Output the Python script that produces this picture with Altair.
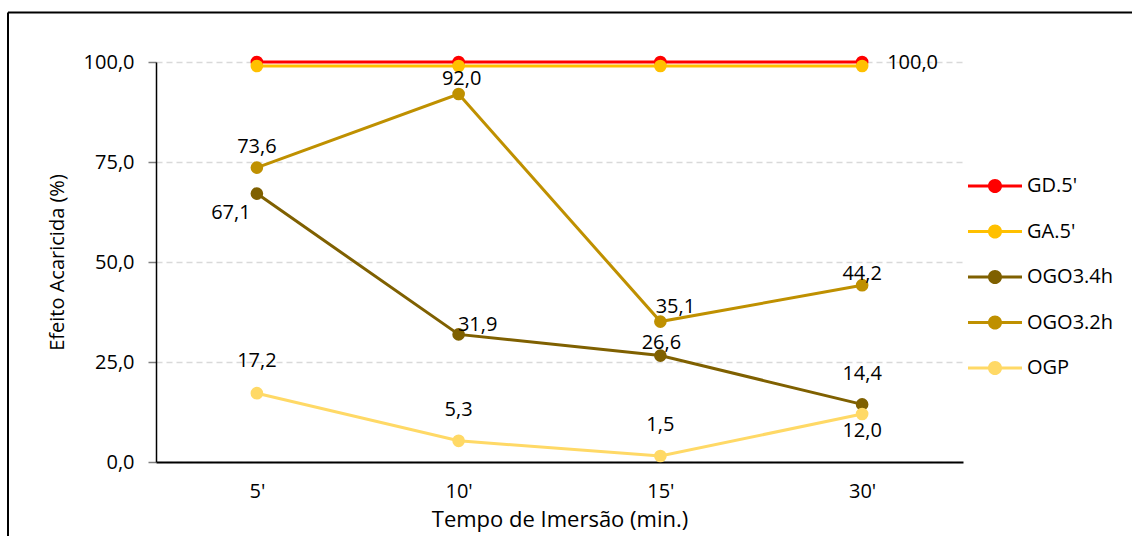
import altair as alt
import pandas as pd

# Immersion times (x categories) and acaricidal effect per treatment (%)
tempos = ["5'", "10'", "15'", "30'"]
series = ["GD.5'", "GA.5'", "OGO3.4h", "OGO3.2h", "OGP"]
gd_5 = [100.0, 100.0, 100.0, 100.0]
ga_5 = [99.0, 99.0, 99.0, 99.0]
ogo3_4h = [67.1, 31.9, 26.6, 14.4]
ogo3_2h = [73.6, 92.0, 35.1, 44.2]
ogp = [17.2, 5.3, 1.5, 12.0]
cores = ["#FF0000", "#FFC000", "#7F6000", "#BF9000", "#FFD966"]

valores = {"GD.5'": gd_5, "GA.5'": ga_5, "OGO3.4h": ogo3_4h,
           "OGO3.2h": ogo3_2h, "OGP": ogp}

rows = []
for s in series:
    for t, v in zip(tempos, valores[s]):
        rows.append({"serie": s, "tempo": t, "valor": v,
                     "rotulo": f"{v:.1f}".replace(".", ",")})
df = pd.DataFrame(rows)

FONT = "Open Sans"
FS = 20

# data-label placement (dx, dy, align) for the labelled points
label_pos = {
    ("GD.5'", "30'"): (25, 1, "left"),
    ("OGO3.2h", "5'"): (0, -21, "center"),
    ("OGO3.2h", "10'"): (3, -15, "center"),
    ("OGO3.2h", "15'"): (15, -15, "center"),
    ("OGO3.2h", "30'"): (0, -11, "center"),
    ("OGO3.4h", "5'"): (-26, 19, "center"),
    ("OGO3.4h", "10'"): (19, -9, "center"),
    ("OGO3.4h", "15'"): (1, -13, "center"),
    ("OGO3.4h", "30'"): (0, -30, "center"),
    ("OGP", "5'"): (0, -32, "center"),
    ("OGP", "10'"): (0, -31, "center"),
    ("OGP", "15'"): (0, -31, "center"),
    ("OGP", "30'"): (0, 17, "center"),
}

x_enc = alt.X("tempo:N", sort=tempos,
              scale=alt.Scale(type="point", padding=0.5),
              axis=alt.Axis(title="Tempo de Imersão (min.)", labelAngle=0,
                            ticks=False, tickSize=0, labelPadding=19,
                            domainColor="black", domainWidth=2,
                            labelFont=FONT, labelFontSize=FS, labelColor="black",
                            titleFont=FONT, titleFontSize=22, titleFontWeight="normal",
                            titleColor="black", titlePadding=8, grid=False))
y_enc = alt.Y("valor:Q", scale=alt.Scale(domain=[0, 100], nice=False),
              axis=alt.Axis(title="Efeito Acaricida (%)", values=[0, 25, 50, 75, 100],
                            labelExpr="replace(format(datum.value, '.1f'), '.', ',')",
                            grid=True, gridDash=[6, 4], gridColor="#D9D9D9", gridWidth=1.5,
                            domainColor="black", domainWidth=1.5,
                            tickColor="#7F7F7F", tickSize=8, tickWidth=1.5,
                            labelPadding=14, labelFont=FONT, labelFontSize=FS,
                            labelColor="black", titleFont=FONT, titleFontSize=FS,
                            titleFontWeight="normal", titleColor="black", titlePadding=16))

# legend symbol: a short line with a dot in the middle
LEGEND_PATH = ("M-2,-0.11L2,-0.11L2,0.11L-2,0.11Z "
               "M0.52,0A0.52,0.52,0,1,1,-0.52,0A0.52,0.52,0,1,1,0.52,0Z")

color_scale = alt.Scale(domain=series, range=cores)
color_leg = alt.Color("serie:N", scale=color_scale, sort=series,
                      legend=alt.Legend(title=None, orient="none",
                                        legendX=825.5, legendY=110.5,
                                        symbolType=LEGEND_PATH, symbolSize=729,
                                        symbolStrokeWidth=0, symbolOpacity=1,
                                        labelFont=FONT, labelFontSize=FS,
                                        labelColor="black", labelOffset=18.5,
                                        rowPadding=21.5, padding=0))

base = alt.Chart(df)
layers = []
for s, c in zip(series, cores):
    sub = base.transform_filter(alt.datum.serie == s)
    layers.append(sub.mark_line(strokeWidth=3, color=c).encode(x=x_enc, y=y_enc))
    layers.append(sub.mark_circle(size=160, opacity=1).encode(x=x_enc, y=y_enc, color=color_leg))

for (s, t), (dx, dy, al) in label_pos.items():
    layers.append(
        base.transform_filter((alt.datum.serie == s) & (alt.datum.tempo == t))
        .mark_text(font=FONT, fontSize=FS, color="black", dx=dx, dy=dy,
                   align=al, baseline="middle")
        .encode(x=x_enc, y=y_enc, text="rotulo:N")
    )

# frame lines along the top and left of the figure
one = pd.DataFrame({"k": [0]})
layers.append(alt.Chart(one).mark_rule(color="black", strokeWidth=2)
              .encode(x=alt.value(-148), x2=alt.value(980), y=alt.value(-49.5)))
layers.append(alt.Chart(one).mark_rule(color="black", strokeWidth=2)
              .encode(x=alt.value(-148), y=alt.value(-49.5), y2=alt.value(480)))

chart = alt.layer(*layers).properties(
    width=807, height=400,
    autosize=alt.AutoSizeParams(type="none"),
    padding={"left": 156, "top": 62, "right": 169, "bottom": 74},
    background="white",
).configure_view(strokeWidth=0)

chart.save("out.html", embed_options={"renderer": "svg", "actions": False})
